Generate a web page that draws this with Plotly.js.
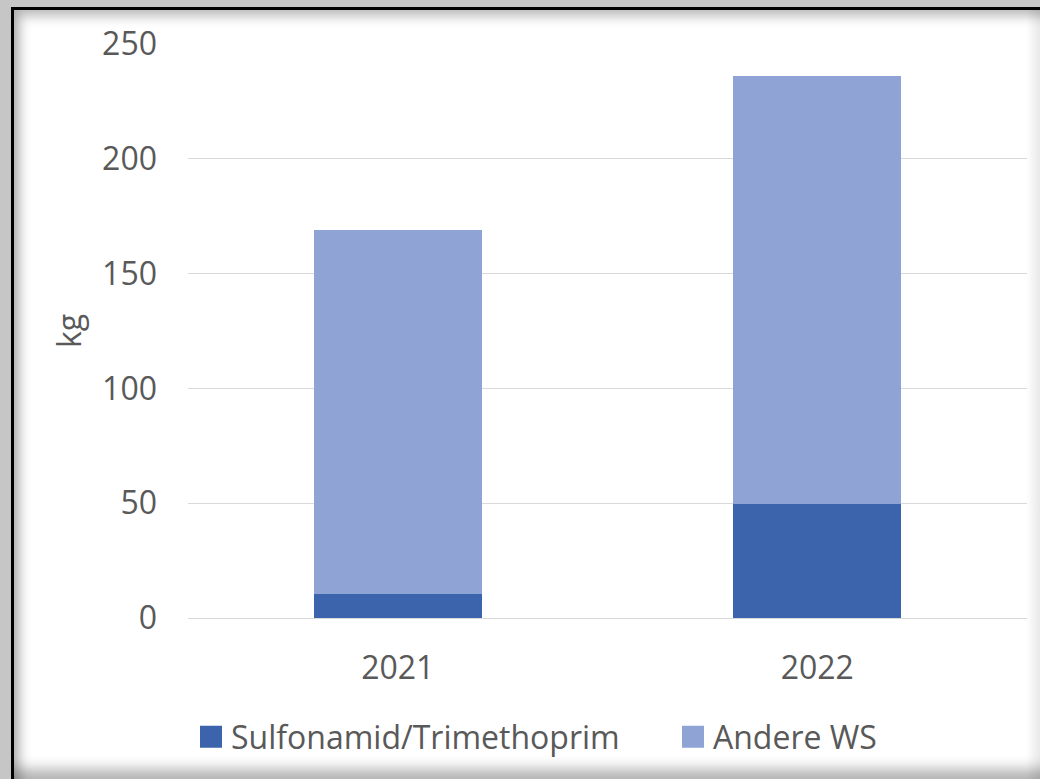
<!DOCTYPE html>
<html>
<head>
<meta charset="utf-8">
<script src="https://cdn.plot.ly/plotly-3.0.1.min.js"></script>
<style>
html,body{margin:0;padding:0;width:1040px;height:779px;overflow:hidden;background:#c6c6c6;}
#frame{position:absolute;left:11px;top:7px;width:1040px;height:769px;border-left:3px solid #000;border-top:3px solid #000;background:#fff;
  box-shadow:inset 10px 10px 12px -4px rgba(0,0,0,0.28), inset 0 -16px 14px -6px rgba(0,0,0,0.30);}
#rshade{position:absolute;left:1026px;top:10px;width:14px;height:769px;background:linear-gradient(to right, rgba(0,0,0,0), rgba(0,0,0,0.09));}
#chart{position:absolute;left:0;top:0;width:1040px;height:779px;}
.legendpoints path{d:path("M11,11H-11V-11H11Z");}
</style>
</head>
<body>
<div id="frame"></div>
<div id="rshade"></div>
<div id="chart"></div>
<script>
const categories = ['2021', '2022'];
const sulfonamid = [10.5, 49.6];
const andere = [158.5, 186.4];
const seriesNames = ['Sulfonamid/Trimethoprim', 'Andere WS'];
const yTicks = [0, 50, 100, 150, 200, 250];

const font = {family: 'Open Sans, sans-serif', color: '#595959'};
const fs = 32;

const data = [
  {type: 'bar', name: seriesNames[0], x: categories, y: sulfonamid, marker: {color: '#3b64ad'}, legend: 'legend'},
  {type: 'bar', name: seriesNames[1], x: categories, y: andere, marker: {color: '#8fa3d5'}, legend: 'legend2'}
];

function legendAt(px) {
  return {
    orientation: 'h', x: px/1040, xanchor: 'left', xref: 'container',
    y: 1 - 737/779, yref: 'container', yanchor: 'middle',
    font: Object.assign({size: fs}, font),
    itemwidth: 30, bgcolor: 'rgba(0,0,0,0)'
  };
}

const layout = {
  width: 1040, height: 779,
  barmode: 'stack',
  bargap: 0.6,
  paper_bgcolor: 'rgba(0,0,0,0)',
  plot_bgcolor: 'rgba(0,0,0,0)',
  margin: {l: 188, r: 13, t: 44, b: 161, autoexpand: false},
  font: Object.assign({size: fs}, font),
  xaxis: {
    type: 'category',
    tickfont: Object.assign({size: fs}, font),
    ticks: '', showgrid: false, zeroline: false,
    showline: false,
    ticklabelstandoff: 28
  },
  yaxis: {
    range: [0, 250],
    tickvals: yTicks,
    ticktext: yTicks.map(String),
    tickfont: Object.assign({size: fs}, font),
    showgrid: true, gridcolor: '#d9d9d9', gridwidth: 1,
    zeroline: true, zerolinecolor: '#d9d9d9', zerolinewidth: 1,
    ticks: '', ticklabelstandoff: 30,
    title: {text: 'kg', font: Object.assign({size: fs}, font), standoff: 10}
  },
  legend: legendAt(191),
  legend2: legendAt(673),
  showlegend: true
};

Plotly.newPlot('chart', data, layout, {displayModeBar: false, staticPlot: true});
</script>
</body>
</html>
